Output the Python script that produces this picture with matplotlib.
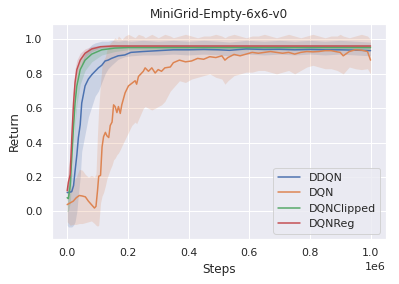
import numpy as np
import matplotlib
matplotlib.use("Agg")
import matplotlib.pyplot as plt
import seaborn as sns

sns.set_theme(style="darkgrid", context="notebook")

# steps (in millions, scaled to raw steps below)
dqn_x = [0.0, 0.01, 0.02, 0.03, 0.04, 0.05, 0.06, 0.07, 0.08, 0.09, 0.095, 0.1, 0.104, 0.11,
         0.115, 0.12, 0.126, 0.131, 0.137, 0.142, 0.148, 0.153, 0.158, 0.164, 0.169, 0.175,
         0.18, 0.191, 0.202, 0.213, 0.224, 0.229, 0.235, 0.251, 0.257, 0.268, 0.279, 0.29,
         0.30, 0.311, 0.322, 0.34, 0.35, 0.37, 0.39, 0.41, 0.43, 0.45, 0.47, 0.49, 0.51,
         0.52, 0.53, 0.55, 0.57, 0.59, 0.61, 0.63, 0.65, 0.67, 0.69, 0.71, 0.73, 0.75, 0.77,
         0.79, 0.81, 0.83, 0.85, 0.87, 0.89, 0.90, 0.91, 0.93, 0.95, 0.97, 0.99, 1.0]
dqn_mean = [0.04, 0.05, 0.06, 0.08, 0.093, 0.09, 0.085, 0.06, 0.04, 0.02, 0.03, 0.12, 0.205, 0.21,
            0.375, 0.435, 0.46, 0.44, 0.43, 0.50, 0.52, 0.62, 0.61, 0.575, 0.61, 0.57,
            0.62, 0.69, 0.73, 0.745, 0.76, 0.74, 0.785, 0.815, 0.835, 0.815, 0.835, 0.805,
            0.825, 0.815, 0.835, 0.84, 0.865, 0.88, 0.87, 0.875, 0.89, 0.885, 0.90, 0.895, 0.905,
            0.88, 0.895, 0.913, 0.905, 0.915, 0.925, 0.92, 0.925, 0.93, 0.925, 0.92, 0.925, 0.915, 0.925,
            0.93, 0.928, 0.93, 0.935, 0.935, 0.928, 0.925, 0.905, 0.93, 0.94, 0.938, 0.93, 0.88]
dqn_low = [-0.06, -0.08, -0.075, -0.075, -0.07, -0.07, -0.065, -0.06, -0.055, -0.07, -0.08, -0.085, -0.08, 0.05,
           0.09, 0.11, 0.15, 0.19, 0.22, 0.245, 0.27, 0.30, 0.31, 0.33, 0.34, 0.36,
           0.38, 0.42, 0.46, 0.50, 0.52, 0.51, 0.535, 0.60, 0.61, 0.60, 0.59, 0.60,
           0.61, 0.62, 0.64, 0.70, 0.72, 0.76, 0.75, 0.77, 0.78, 0.79, 0.80, 0.78, 0.77,
           0.74, 0.76, 0.79, 0.80, 0.81, 0.81, 0.82, 0.82, 0.81, 0.80, 0.81, 0.82, 0.80, 0.82,
           0.84, 0.85, 0.84, 0.83, 0.83, 0.82, 0.81, 0.80, 0.84, 0.83, 0.825, 0.83, 0.80]
dqn_high = [0.05, 0.12, 0.18, 0.20, 0.245, 0.24, 0.215, 0.20, 0.21, 0.20, 0.22, 0.45, 0.60, 0.75,
            0.85, 0.88, 0.90, 0.94, 0.96, 0.98, 0.99, 1.0, 1.01, 1.0, 1.02, 1.01,
            1.0, 1.02, 1.03, 1.02, 1.01, 1.02, 1.03, 1.02, 1.01, 1.02, 1.03, 1.02,
            1.01, 1.02, 1.03, 1.02, 1.01, 1.02, 1.03, 1.02, 1.01, 1.02, 1.02, 1.03, 1.02,
            1.01, 1.02, 1.03, 1.02, 1.01, 1.02, 1.02, 1.03, 1.02, 1.01, 1.02, 1.03, 1.02, 1.01,
            1.02, 1.03, 1.02, 1.01, 1.02, 1.02, 1.03, 1.02, 1.01, 1.02, 1.03, 1.02, 1.0]

ddqn_x = [0.0, 0.004, 0.015, 0.021, 0.026, 0.032, 0.037, 0.043, 0.048, 0.059, 0.07, 0.081,
          0.092, 0.103, 0.114, 0.125, 0.135, 0.146, 0.168, 0.19, 0.21, 0.25, 0.3, 0.35, 0.4,
          0.45, 0.5, 0.535, 0.59, 0.65, 0.7, 0.75, 0.8, 0.85, 0.9, 0.95, 1.0]
ddqn_mean = [0.11, 0.11, 0.115, 0.15, 0.235, 0.33, 0.43, 0.505, 0.63, 0.73, 0.77, 0.795,
             0.815, 0.835, 0.85, 0.875, 0.88, 0.89, 0.905, 0.91, 0.925, 0.93, 0.935, 0.94, 0.94,
             0.942, 0.94, 0.937, 0.945, 0.942, 0.943, 0.94, 0.942, 0.94, 0.94, 0.938, 0.935]
ddqn_low = [-0.08, -0.09, -0.09, -0.08, -0.06, 0.0, 0.1, 0.2, 0.35, 0.45, 0.55, 0.61,
            0.67, 0.70, 0.75, 0.80, 0.83, 0.85, 0.885, 0.90, 0.905, 0.91, 0.91, 0.915, 0.91,
            0.915, 0.91, 0.905, 0.915, 0.91, 0.915, 0.91, 0.915, 0.91, 0.915, 0.91, 0.905]
ddqn_high = [0.15, 0.18, 0.22, 0.35, 0.55, 0.70, 0.77, 0.82, 0.865, 0.92, 0.95, 0.97,
             0.98, 0.985, 0.99, 0.99, 0.99, 0.995, 0.99, 0.995, 0.99, 0.995, 0.99, 0.995, 0.99,
             0.995, 0.99, 0.985, 0.995, 0.99, 0.995, 0.99, 0.995, 0.99, 0.995, 0.99, 0.985]

clip_x = [0.0, 0.004, 0.01, 0.015, 0.021, 0.026, 0.032, 0.043, 0.059, 0.081, 0.114, 0.157,
          0.2, 0.3, 0.4, 0.5, 0.6, 0.7, 0.8, 0.9, 1.0]
clip_mean = [0.08, 0.075, 0.15, 0.31, 0.495, 0.63, 0.73, 0.825, 0.88, 0.915, 0.94, 0.95,
             0.953, 0.953, 0.953, 0.953, 0.953, 0.953, 0.953, 0.953, 0.953]
clip_low = [0.0, 0.0, 0.05, 0.18, 0.36, 0.50, 0.62, 0.74, 0.82, 0.87, 0.91, 0.93,
            0.94, 0.94, 0.94, 0.94, 0.94, 0.94, 0.94, 0.94, 0.94]
clip_high = [0.15, 0.16, 0.27, 0.45, 0.62, 0.74, 0.82, 0.89, 0.93, 0.95, 0.965, 0.97,
             0.968, 0.968, 0.968, 0.968, 0.968, 0.968, 0.968, 0.968, 0.968]

reg_x = [0.0, 0.004, 0.01, 0.015, 0.021, 0.026, 0.032, 0.043, 0.059, 0.081, 0.11, 0.15,
         0.2, 0.3, 0.4, 0.5, 0.6, 0.7, 0.8, 0.9, 1.0]
reg_mean = [0.12, 0.17, 0.215, 0.42, 0.63, 0.75, 0.825, 0.88, 0.92, 0.945, 0.958, 0.962,
            0.962, 0.962, 0.962, 0.962, 0.962, 0.962, 0.962, 0.962, 0.962]
reg_low = [0.06, 0.09, 0.12, 0.30, 0.52, 0.66, 0.76, 0.84, 0.895, 0.93, 0.95, 0.956,
           0.956, 0.956, 0.956, 0.956, 0.956, 0.956, 0.956, 0.956, 0.956]
reg_high = [0.18, 0.26, 0.34, 0.55, 0.73, 0.83, 0.88, 0.92, 0.945, 0.96, 0.966, 0.968,
            0.968, 0.968, 0.968, 0.968, 0.968, 0.968, 0.968, 0.968, 0.968]

series = [
    ("DDQN", ddqn_x, ddqn_mean, ddqn_low, ddqn_high),
    ("DQN", dqn_x, dqn_mean, dqn_low, dqn_high),
    ("DQNClipped", clip_x, clip_mean, clip_low, clip_high),
    ("DQNReg", reg_x, reg_mean, reg_low, reg_high),
]
colors = sns.color_palette("deep")

fig = plt.figure(figsize=(399 / 72, 284 / 72), dpi=72)
ax = fig.add_subplot(1, 1, 1)
fig.subplots_adjust(left=52 / 399, right=385.7 / 399, top=1 - 24 / 284, bottom=1 - 239 / 284)

for (name, x, m, lo, hi), c in zip(series, colors):
    xs = np.array(x) * 1e6
    ax.fill_between(xs, lo, hi, color=c, alpha=0.2, linewidth=0)
    ax.plot(xs, m, color=c, label=name, linewidth=1.5)

ax.set_ylim(-0.16, 1.09)
ax.set_xlabel("Steps")
ax.set_ylabel("Return")
ax.set_title("MiniGrid-Empty-6x6-v0")
ax.legend(loc="lower right")

fig.savefig("out.png", dpi=72)
